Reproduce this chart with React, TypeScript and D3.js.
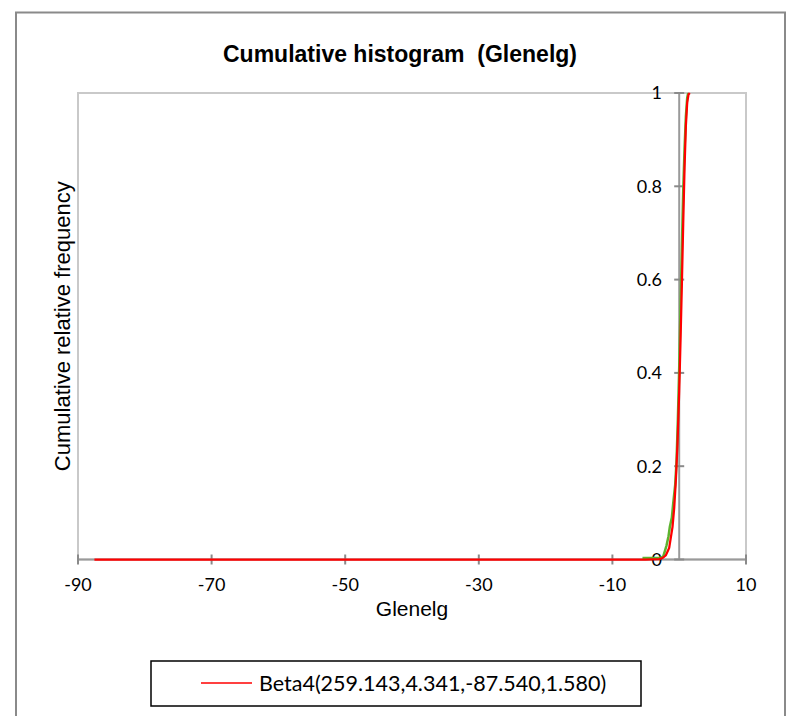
import React from "react";
import * as d3 from "d3";

// Fitted Beta4 distribution (cumulative), sampled along x
const fitX = [-87.54, -10, -5, -3, -2.5, -2, -1.5, -1, -0.75, -0.5, -0.25, 0, 0.2, 0.4, 0.6, 0.8, 1.0, 1.2, 1.4, 1.58];
const fitY = [0, 0, 0, 0.001, 0.003, 0.009, 0.025, 0.07, 0.11, 0.17, 0.25, 0.36, 0.47, 0.59, 0.72, 0.84, 0.93, 0.98, 0.997, 1];

// Observed cumulative relative frequency
const obsX = [-5.5, -4, -3, -2.4, -2.1, -1.9, -1.6, -1.4, -1.1, -0.9, -0.6, -0.4, -0.2, 0, 0.2, 0.4, 0.6, 0.8, 1.0, 1.2, 1.35];
const obsY = [0.003, 0.003, 0.003, 0.006, 0.02, 0.03, 0.05, 0.07, 0.09, 0.12, 0.16, 0.21, 0.3, 0.41, 0.54, 0.67, 0.79, 0.88, 0.95, 0.99, 1];

const xTicks = [-90, -70, -50, -30, -10, 10];
const yTicks = [0, 0.2, 0.4, 0.6, 0.8, 1];

const title = "Cumulative histogram  (Glenelg)";
const xTitle = "Glenelg";
const yTitle = "Cumulative relative frequency";
const legendLabel = "Beta4(259.143,4.341,-87.540,1.580)";

export default function App() {
  const W = 786;
  const H = 716;
  const plot = { left: 78, right: 746, top: 93, bottom: 559.5 };

  const x = d3.scaleLinear().domain([-90, 10]).range([plot.left, plot.right]);
  const y = d3.scaleLinear().domain([0, 1]).range([plot.bottom, plot.top]);

  const line = d3
    .line<[number, number]>()
    .x((d) => x(d[0]))
    .y((d) => y(d[1]));

  const fitPts = fitX.map((v, i) => [v, fitY[i]] as [number, number]);
  const obsPts = obsX.map((v, i) => [v, obsY[i]] as [number, number]);

  const x0 = x(0);
  const tickFont = "Lato, 'Open Sans', sans-serif";
  const arial = "'Liberation Sans', Arial, sans-serif";

  return (
    <svg
      width={W}
      height={H}
      style={{ position: "absolute", left: 0, top: 0, background: "#fff" }}
    >
      {/* chart frame */}
      <rect x={16} y={12.5} width={769} height={720} fill="#fff" stroke="#8a8a8a" strokeWidth={2} />

      <text
        x={400}
        y={62}
        textAnchor="middle"
        fontFamily={arial}
        fontWeight="bold"
        fontSize={23}
        fill="#000"
        style={{ whiteSpace: "pre" }}
      >
        {title}
      </text>

      {/* plot area */}
      <rect
        x={plot.left}
        y={plot.top}
        width={plot.right - plot.left}
        height={plot.bottom - plot.top}
        fill="none"
        stroke="#c9c9c9"
        strokeWidth={2}
      />

      {/* x axis along y = 0 */}
      <line x1={plot.left} x2={plot.right} y1={y(0)} y2={y(0)} stroke="#9a9a9a" strokeWidth={2} />
      {xTicks.map((t) => (
        <g key={t}>
          <line x1={x(t)} x2={x(t)} y1={y(0) - 5} y2={y(0) + 5} stroke="#8a8a8a" strokeWidth={2} />
          <text x={x(t)} y={591} textAnchor="middle" fontFamily={tickFont} fontSize={18} fill="#000">
            {t}
          </text>
        </g>
      ))}

      {/* y axis along x = 0 */}
      <line x1={x0} x2={x0} y1={plot.top} y2={plot.bottom} stroke="#9a9a9a" strokeWidth={2} />
      {yTicks.map((t) => (
        <g key={t}>
          <line x1={x0 - 5} x2={x0 + 5} y1={y(t)} y2={y(t)} stroke="#8a8a8a" strokeWidth={2} />
          <text
            x={662}
            y={y(t)}
            dy="0.36em"
            textAnchor="end"
            fontFamily={tickFont}
            fontSize={18}
            fill="#000"
          >
            {t}
          </text>
        </g>
      ))}

      {/* series */}
      <path d={line(obsPts) ?? ""} fill="none" stroke="#5db32f" strokeWidth={2.5} />
      <path d={line(fitPts) ?? ""} fill="none" stroke="#ff0000" strokeWidth={2.25} />

      {/* axis titles */}
      <text x={412} y={616} textAnchor="middle" fontFamily={arial} fontSize={21} fill="#000">
        {xTitle}
      </text>
      <text
        transform={`translate(70, ${(plot.top + plot.bottom) / 2}) rotate(-90)`}
        textAnchor="middle"
        fontFamily={arial}
        fontSize={22}
        fill="#000"
      >
        {yTitle}
      </text>

      {/* legend */}
      <rect x={151} y={661} width={490} height={45} fill="#fff" stroke="#000" strokeWidth={1.5} />
      <line x1={201} x2={252} y1={683} y2={683} stroke="#ff0000" strokeWidth={1.5} />
      <text x={259} y={691} fontFamily={tickFont} fontSize={21.5} fill="#000">
        {legendLabel}
      </text>
    </svg>
  );
}
